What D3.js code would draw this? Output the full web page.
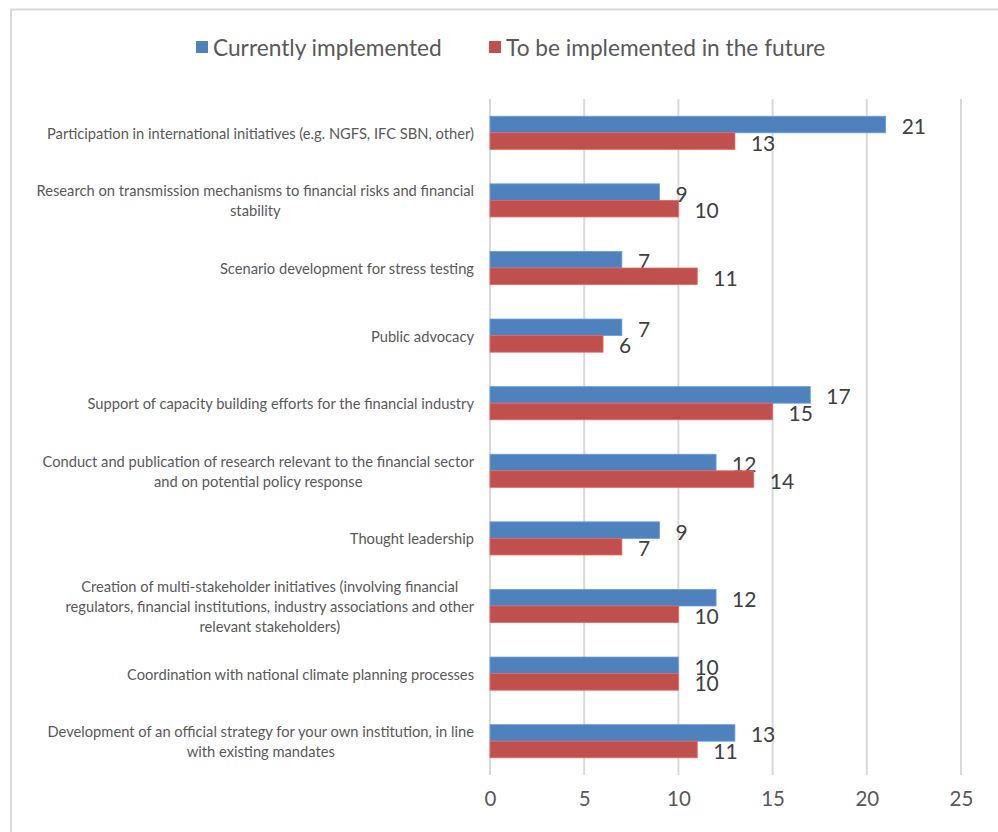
<!DOCTYPE html>
<html>
<head>
<meta charset="utf-8">
<script src="https://cdn.jsdelivr.net/npm/d3@7"></script>
<style>
  html, body { margin: 0; padding: 0; background: #fff; }
  svg { display: block; font-family: Lato, "Open Sans", sans-serif; }
</style>
</head>
<body>
<svg id="chart" width="998" height="832"></svg>
<script>
// Survey activities (line breaks as they are set in the axis labels)
const categories = [
  "Participation in international initiatives (e.g. NGFS, IFC SBN, other)",
  "Research on transmission mechanisms to financial risks and financial\nstability",
  "Scenario development for stress testing",
  "Public advocacy",
  "Support of capacity building efforts for the financial industry",
  "Conduct and publication of research relevant to the financial sector\nand on potential policy response",
  "Thought leadership",
  "Creation of multi-stakeholder initiatives (involving financial\nregulators, financial institutions, industry associations and other\nrelevant stakeholders)",
  "Coordination with national climate planning processes",
  "Development of an official strategy for your own institution, in line\nwith existing mandates"
];
const currentlyImplemented = [21, 9, 7, 7, 17, 12, 9, 12, 10, 13];
const futureImplemented    = [13, 10, 11, 6, 15, 14, 7, 10, 10, 11];
const seriesNames = ["Currently implemented", "To be implemented in the future"];
const xTicks = [0, 5, 10, 15, 20, 25];

const colors = ["#4F81BD", "#C0504D"];
const svg = d3.select("#chart");

// chart area border
svg.append("rect")
  .attr("x", 11).attr("y", 9.5)
  .attr("width", 1000).attr("height", 840)
  .attr("fill", "none").attr("stroke", "#d9d9d9").attr("stroke-width", 2);

const plot = { left: 490, right: 961, top: 99, bottom: 775 };

const x = d3.scaleLinear().domain([0, 25]).range([plot.left, plot.right]);
const y = d3.scaleBand().domain(d3.range(categories.length))
  .range([plot.top, plot.bottom]).paddingInner(0.51).paddingOuter(0.255);
const sub = d3.scaleBand().domain([0, 1]).range([0, y.bandwidth()]);

// vertical gridlines
svg.append("g").selectAll("line").data(xTicks).join("line")
  .attr("x1", d => x(d)).attr("x2", d => x(d))
  .attr("y1", plot.top).attr("y2", plot.bottom)
  .attr("stroke", "#d9d9d9").attr("stroke-width", 2);

// x axis tick labels
const xAxis = d3.axisBottom(x).tickValues(xTicks).tickSize(0).tickPadding(0);
const gx = svg.append("g").attr("transform", `translate(0, ${plot.bottom + 10})`).call(xAxis);
gx.select(".domain").remove();
gx.selectAll("text")
  .attr("font-family", "Lato, 'Open Sans', sans-serif")
  .attr("font-size", 20.5).attr("fill", "#595959")
  .attr("dy", "1em");

// bars
const series = [currentlyImplemented, futureImplemented];
series.forEach((vals, s) => {
  const g = svg.append("g");
  g.selectAll("rect").data(vals).join("rect")
    .attr("x", x(0))
    .attr("y", (d, i) => y(i) + sub(s))
    .attr("width", d => x(d) - x(0))
    .attr("height", sub.bandwidth())
    .attr("fill", colors[s])
    .attr("stroke", d3.color(colors[s]).brighter(0.6))
    .attr("stroke-width", 0.8);
  g.selectAll("text").data(vals).join("text")
    .attr("x", d => x(d) + 16)
    .attr("y", (d, i) => y(i) + sub(s) + sub.bandwidth() / 2 + 1)
    .attr("dominant-baseline", "central")
    .attr("font-size", 21).attr("fill", "#404040")
    .text(d => d);
});

// category labels: lines centred on each other, block right-aligned
const labelRight = 474;
const lineH = 20;
categories.forEach((c, i) => {
  const lines = c.split("\n");
  const t = svg.append("text")
    .attr("font-size", 14.7).attr("fill", "#595959")
    .attr("text-anchor", "middle");
  const cy = y(i) + y.bandwidth() / 2;
  lines.forEach((ln, k) => {
    t.append("tspan")
      .attr("y", cy + (k - (lines.length - 1) / 2) * lineH)
      .attr("dominant-baseline", "central")
      .text(ln);
  });
  let maxW = 0;
  t.selectAll("tspan").each(function () { maxW = Math.max(maxW, this.getComputedTextLength()); });
  t.selectAll("tspan").attr("x", labelRight - maxW / 2);
});

// legend
const legend = svg.append("g");
const legendX = [196, 489];
seriesNames.forEach((name, s) => {
  legend.append("rect")
    .attr("x", legendX[s]).attr("y", 41)
    .attr("width", 12).attr("height", 12)
    .attr("fill", colors[s]);
  legend.append("text")
    .attr("x", legendX[s] + 17).attr("y", 47)
    .attr("dominant-baseline", "central")
    .attr("font-size", 22.7).attr("fill", "#595959")
    .text(name);
});
</script>
</body>
</html>
